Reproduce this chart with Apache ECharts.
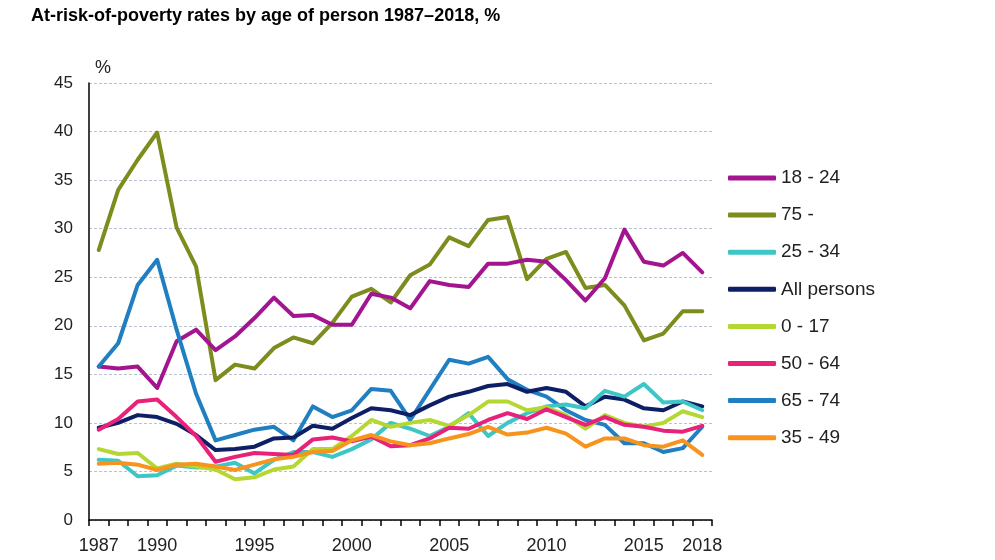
<!DOCTYPE html>
<html>
<head>
<meta charset="utf-8">
<script src="https://cdn.jsdelivr.net/npm/echarts@6/dist/echarts.min.js"></script>
<style>
html,body{margin:0;padding:0;background:#fff;}
#chart{width:995px;height:560px;}
</style>
</head>
<body>
<div id="chart"></div>
<script>
const years = ['1987','1988','1989','1990','1991','1992','1993','1994','1995','1996','1997','1998','1999','2000','2001','2002','2003','2004','2005','2006','2007','2008','2009','2010','2011','2012','2013','2014','2015','2016','2017','2018'];
const shownYears = ['1987','1990','1995','2000','2005','2010','2015','2018'];
const yTicks = [0,5,10,15,20,25,30,35,40,45];

const s18_24 = [15.8,15.6,15.8,13.6,18.4,19.6,17.5,18.9,20.8,22.9,21.0,21.1,20.1,20.1,23.3,22.9,21.8,24.6,24.2,24.0,26.4,26.4,26.8,26.6,24.7,22.6,24.9,29.9,26.6,26.2,27.5,25.5];
const s75 = [27.8,34.0,37.1,39.9,30.1,26.1,14.4,16.0,15.6,17.7,18.8,18.2,20.3,23.0,23.8,22.4,25.2,26.3,29.1,28.2,30.9,31.2,24.8,26.9,27.6,23.9,24.2,22.1,18.5,19.2,21.5,21.5];
const s25_34 = [6.2,6.1,4.5,4.6,5.6,5.4,5.5,5.9,4.8,6.2,7.0,7.0,6.5,7.3,8.3,10.0,9.4,8.65,9.6,11.0,8.65,10.0,11.0,11.7,11.9,11.5,13.3,12.7,14.0,12.1,12.2,11.3];
const sAll = [9.5,10.0,10.8,10.6,9.9,8.75,7.2,7.3,7.55,8.4,8.5,9.7,9.4,10.5,11.5,11.3,10.8,11.8,12.7,13.2,13.8,14.0,13.2,13.6,13.2,11.7,12.7,12.4,11.5,11.3,12.2,11.7];
const s0_17 = [7.3,6.8,6.9,5.3,5.8,5.5,5.2,4.2,4.4,5.2,5.5,7.3,7.3,8.65,10.3,9.6,10.0,10.3,9.7,10.8,12.2,12.2,11.3,11.6,10.8,9.4,10.8,10.0,9.6,10.0,11.2,10.6];
const s50_64 = [9.3,10.4,12.2,12.4,10.6,8.65,6.0,6.5,6.9,6.8,6.7,8.3,8.5,8.1,8.6,7.6,7.7,8.4,9.5,9.4,10.3,11.0,10.4,11.4,10.6,9.8,10.6,9.8,9.6,9.2,9.1,9.7];
const s65_74 = [15.8,18.2,24.2,26.8,19.6,13.0,8.2,8.75,9.3,9.6,8.2,11.7,10.6,11.3,13.5,13.3,10.3,13.4,16.5,16.1,16.8,14.5,13.4,12.7,11.3,10.3,9.8,7.9,7.9,7.0,7.4,9.6];
const s35_49 = [5.8,5.9,5.7,5.15,5.7,5.8,5.5,5.15,5.7,6.25,6.5,7.0,7.1,8.2,8.75,8.1,7.7,7.9,8.4,8.85,9.6,8.8,9.0,9.5,8.9,7.55,8.4,8.4,7.7,7.55,8.2,6.7];

const legendOrder = ['18 - 24','75 -','25 - 34','All persons','0 - 17','50 - 64','65 - 74','35 - 49'];

const seriesDefs = [
  {name:'75 -', data:s75, color:'#7d8c1c'},
  {name:'18 - 24', data:s18_24, color:'#a3158f'},
  {name:'65 - 74', data:s65_74, color:'#1f7fc1'},
  {name:'All persons', data:sAll, color:'#0f1f66'},
  {name:'25 - 34', data:s25_34, color:'#3ec6c6'},
  {name:'0 - 17', data:s0_17, color:'#b5d731'},
  {name:'50 - 64', data:s50_64, color:'#e8227a'},
  {name:'35 - 49', data:s35_49, color:'#f7941e'}
];

const chart = echarts.init(document.getElementById('chart'), null, {renderer:'canvas'});
const font = 'Liberation Sans, Arial, sans-serif';

chart.setOption({
  animation:false,
  backgroundColor:'#fff',
  textStyle:{fontFamily:font},
  title:{
    text:'At-risk-of-poverty rates by age of person 1987–2018, %',
    left:26, top:2,
    textStyle:{fontSize:18, fontWeight:'bold', color:'#000', fontFamily:font}
  },
  legend:{
    data:legendOrder,
    orient:'vertical',
    left:723, top:161,
    itemWidth:48, itemHeight:5,
    itemGap:13.1,
    icon:'roundRect',
    textStyle:{fontSize:19, color:'#222', lineHeight:24, fontFamily:font}
  },
  grid:{left:89, right:283, top:83, bottom:40, containLabel:false},
  xAxis:{
    type:'category',
    data:years,
    boundaryGap:true,
    axisLine:{show:true, lineStyle:{color:'#000', width:1.5}},
    axisTick:{show:true, interval:0, length:6, lineStyle:{color:'#000', width:1.5}},
    axisLabel:{
      interval:function(i, v){ return shownYears.indexOf(v) >= 0; },
      fontSize:18, color:'#222', margin:17, fontFamily:font
    },
    splitLine:{show:false}
  },
  yAxis:{
    type:'value',
    min:yTicks[0], max:yTicks[yTicks.length-1], interval:5,
    name:'%',
    nameLocation:'end',
    nameGap:6,
    nameTextStyle:{fontSize:18, color:'#222', align:'left', padding:[0,0,0,6], fontFamily:font},
    axisLine:{show:true, lineStyle:{color:'#000', width:1.5}},
    axisTick:{show:false},
    axisLabel:{fontSize:17, color:'#222', margin:16, fontFamily:font},
    splitLine:{show:true, lineStyle:{color:'#b9c2d3', type:[3,2], width:1}}
  },
  series: seriesDefs.map(s => ({
    name:s.name, type:'line', data:s.data,
    symbol:'none', smooth:false,
    lineStyle:{width:4, color:s.color, cap:'round', join:'round'},
    itemStyle:{color:s.color}
  }))
});
</script>
</body>
</html>
